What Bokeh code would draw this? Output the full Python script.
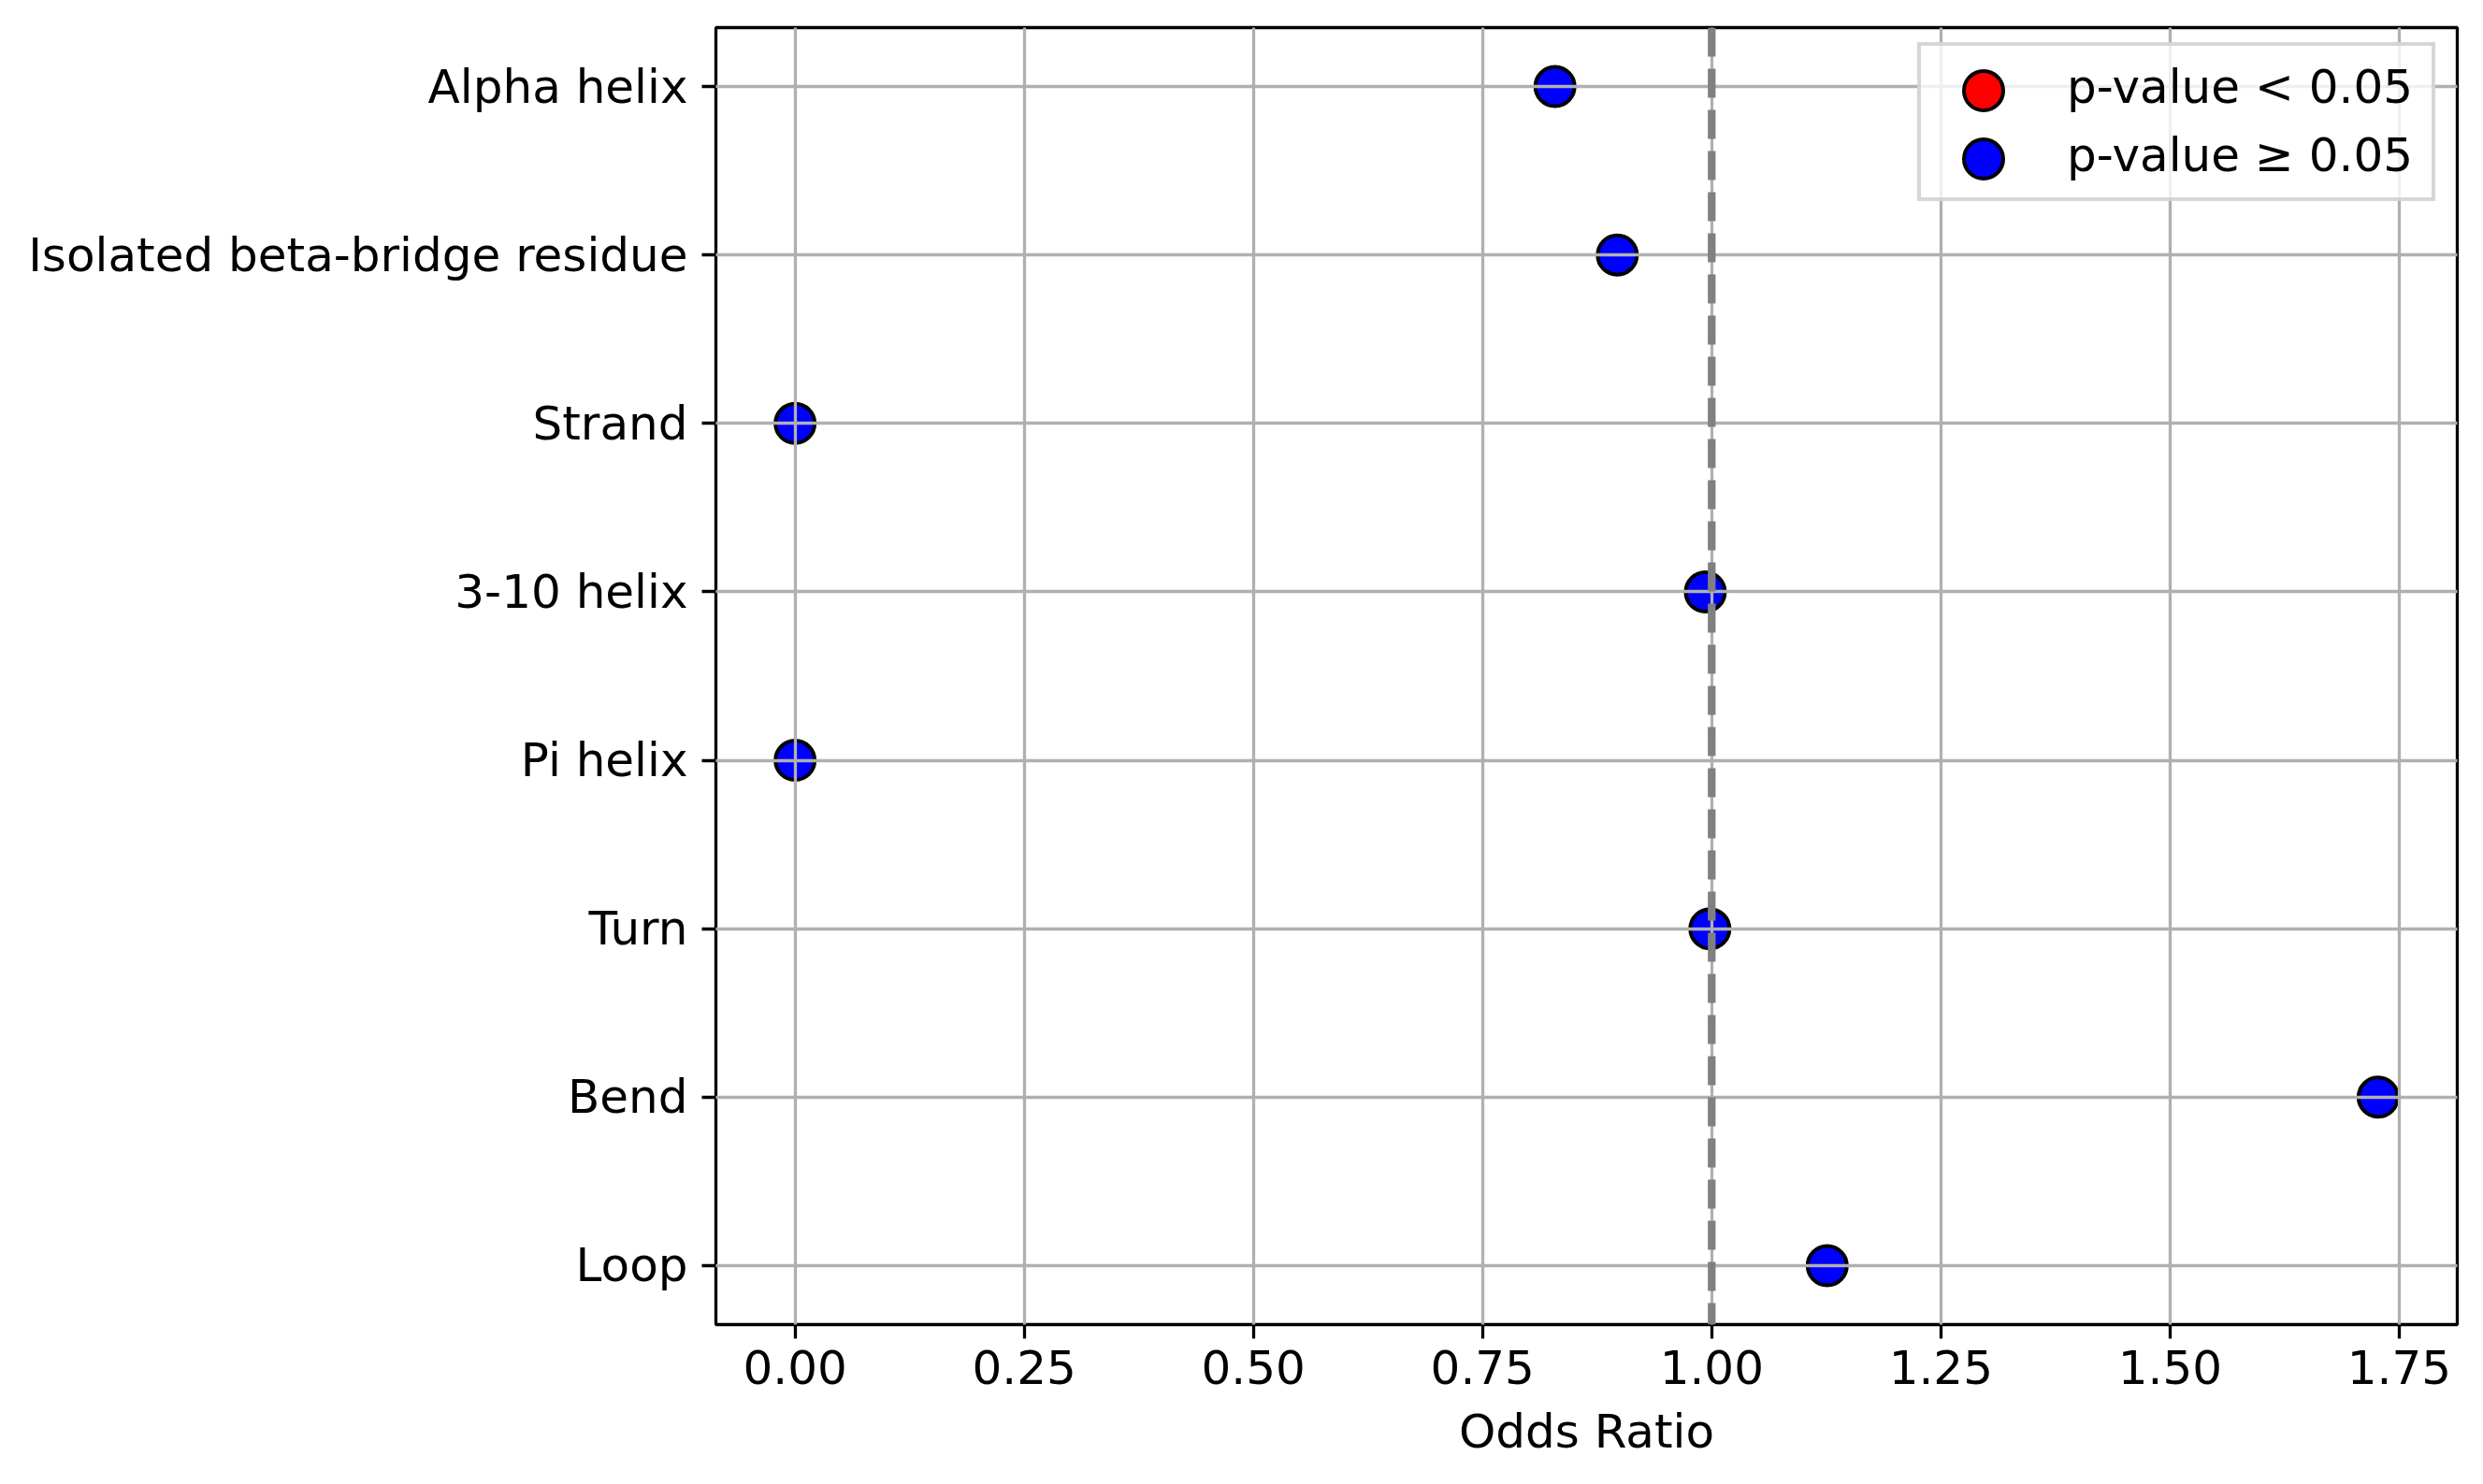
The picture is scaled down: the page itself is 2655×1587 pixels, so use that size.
import math
from bokeh.plotting import figure
from bokeh.models import (ColumnDataSource, Range1d, FixedTicker, Span, Legend,
                          LegendItem, PrintfTickFormatter)
from bokeh.embed import file_html
from bokeh.resources import INLINE

# ---------------- data ----------------
categories = ["Alpha helix", "Isolated beta-bridge residue", "Strand", "3-10 helix",
              "Pi helix", "Turn", "Bend", "Loop"]
odds_ratio = [0.829, 0.897, 0.0, 0.993, 0.0, 0.998, 1.727, 1.126]
significant = [False, False, False, False, False, False, False, False]
x_ticks = [0.0, 0.25, 0.5, 0.75, 1.0, 1.25, 1.5, 1.75]
reference_line = 1.0
legend_labels = ["p-value < 0.05", "p-value \u2265 0.05"]
x_label = "Odds Ratio"

FONT = "DejaVu Sans"
FS = "50px"

n = len(categories)
ypos = list(range(n))


def subset(flag):
    xs = [v for v, s in zip(odds_ratio, significant) if s == flag]
    ys = [i for i, s in zip(ypos, significant) if s == flag]
    if not xs:  # keep an (undrawable) NaN row so the legend swatch still renders
        xs, ys = [math.nan], [math.nan]
    return ColumnDataSource(dict(x=xs, y=ys))


sig_src = subset(True)
ns_src = subset(False)

xmin, xmax = min(odds_ratio), max(odds_ratio)
xpad = 0.05 * (xmax - xmin)
ypad = 0.05 * (n - 1)

W, H = 2639, 1571
FL, FT, FR, FB = 765, 29, 2627, 1416  # frame edges on the page

p = figure(width=W, height=H,
           x_range=Range1d(xmin - xpad, xmax + xpad),
           y_range=Range1d(n - 1 + ypad, -ypad),
           output_backend="svg", toolbar_location=None,
           min_border_left=FL, min_border_right=W - FR,
           min_border_top=FT, min_border_bottom=H - FB)

p.background_fill_color = "white"
p.border_fill_color = "white"
p.outline_line_color = "black"
p.outline_line_width = 3.3

# axes
p.xaxis.ticker = FixedTicker(ticks=x_ticks)
p.xaxis.formatter = PrintfTickFormatter(format="%.2f")
p.yaxis.ticker = FixedTicker(ticks=ypos)
p.yaxis.major_label_overrides = {i: c for i, c in zip(ypos, categories)}
p.xaxis.axis_label = x_label

for ax in (p.xaxis, p.yaxis):
    ax.axis_line_color = None
    ax.major_tick_line_color = "black"
    ax.major_tick_line_width = 3.3
    ax.major_tick_out = 15
    ax.major_tick_in = 0
    ax.minor_tick_line_color = None
    ax.major_label_text_font = FONT
    ax.major_label_text_font_size = FS
    ax.major_label_text_color = "black"
    ax.axis_label_text_font = FONT
    ax.axis_label_text_font_size = FS
    ax.axis_label_text_font_style = "normal"
    ax.axis_label_text_color = "black"
p.xaxis.major_label_standoff = 12
p.yaxis.major_label_standoff = 15
p.xaxis.axis_label_standoff = 19

# grid (drawn above markers, like matplotlib)
p.xgrid.ticker = FixedTicker(ticks=x_ticks)
p.ygrid.ticker = FixedTicker(ticks=ypos)
p.grid.grid_line_color = "#b0b0b0"
p.grid.grid_line_width = 3.3
p.grid.level = "guide"

# markers
r_sig = p.scatter("x", "y", source=sig_src, size=42, fill_color="red",
                  line_color="black", line_width=4)
r_ns = p.scatter("x", "y", source=ns_src, size=42, fill_color="blue",
                 line_color="black", line_width=4)

# reference line
p.add_layout(Span(location=reference_line, dimension="height",
                  line_color="#808080", line_width=8.3, line_dash="31 13"))

# legend box with labels
LX, LT, LB = 2050, 53, 215
legend = Legend(items=[LegendItem(label=legend_labels[0], renderers=[r_sig]),
                       LegendItem(label=legend_labels[1], renderers=[r_ns])],
                location=(LX - FL, FB - LB), margin=0,
                padding=dict(left=34, right=20, top=7, bottom=9), spacing=0,
                glyph_height=73, glyph_width=72, label_standoff=50,
                label_height=58,
                label_text_font=FONT, label_text_font_size=FS,
                label_text_color="black",
                border_line_color="#cccccc", border_line_width=4,
                border_line_alpha=0.8, background_fill_alpha=0.8)
p.add_layout(legend, "center")

# full-size legend swatches (transparent legends laid over the box)
for r, cy in ((r_sig, 96.5), (r_ns, 169.5)):
    sw = Legend(items=[LegendItem(label=" ", renderers=[r])],
                location=(2068 - FL, FB - (cy + 52.5)), margin=0,
                padding=0, spacing=0, glyph_height=105, glyph_width=105,
                label_standoff=0, label_width=0, label_height=0,
                label_text_font_size="1px",
                border_line_color=None, background_fill_alpha=0)
    p.add_layout(sw, "center")

open("out.html", "w").write(file_html(p, INLINE))
